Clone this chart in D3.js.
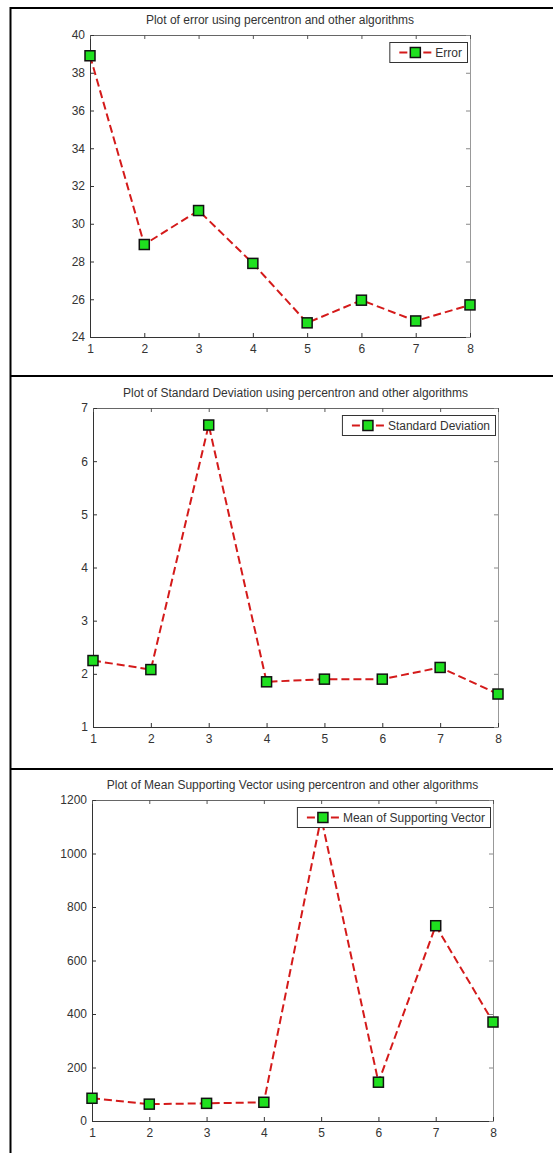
<!DOCTYPE html>
<html><head><meta charset="utf-8">
<script src="https://cdn.jsdelivr.net/npm/d3@7"></script>
<style>
html,body{margin:0;padding:0;background:#fff;}
svg{display:block;font-family:"Liberation Sans",Arial,sans-serif;}
</style></head>
<body>
<svg id="c" width="553" height="1153"></svg>
<script>
const xCats = [1,2,3,4,5,6,7,8];
const errorVals = [38.9, 28.9, 30.7, 27.9, 24.75, 25.95, 24.85, 25.7];
const sdVals = [2.25, 2.08, 6.68, 1.85, 1.9, 1.9, 2.12, 1.62];
const msvVals = [85, 63, 66, 70, 1135, 145, 730, 370];
const titles = [
  "Plot of error using percentron and other algorithms",
  "Plot of Standard Deviation using percentron and other algorithms",
  "Plot of Mean Supporting Vector using percentron and other algorithms"
];
const legends = ["Error", "Standard Deviation", "Mean of Supporting Vector"];
const yTicks1 = [24,26,28,30,32,34,36,38,40];
const yTicks2 = [1,2,3,4,5,6,7];
const yTicks3 = [0,200,400,600,800,1000,1200];

const svg = d3.select("#c");
const FS = 12;

// table frame
svg.append("line").attr("x1",10.5).attr("x2",10.5).attr("y1",7).attr("y2",1153).attr("stroke","#000").attr("stroke-width",2);
[8,376,769].forEach(y=>{
  svg.append("line").attr("x1",10).attr("x2",553).attr("y1",y).attr("y2",y).attr("stroke","#000").attr("stroke-width",2);
});

const panels = [
  {vals:errorVals, ticks:yTicks1, dom:[24,40], L:90, R:470, T:35, B:337, title:titles[0], leg:legends[0]},
  {vals:sdVals, ticks:yTicks2, dom:[1,7], L:93, R:498, T:408, B:727, title:titles[1], leg:legends[1]},
  {vals:msvVals, ticks:yTicks3, dom:[0,1200], L:92, R:493, T:800, B:1121, title:titles[2], leg:legends[2]}
];

const lineCol = "#d41a1a";
const markFill = "#1fe01f";

panels.forEach(p=>{
  const x = d3.scaleLinear().domain([1,8]).range([p.L,p.R]);
  const y = d3.scaleLinear().domain(p.dom).range([p.B,p.T]);
  const g = svg.append("g");

  // title
  g.append("text").attr("x",(p.L+p.R)/2).attr("y",p.T-11).attr("text-anchor","middle")
    .attr("font-size",FS).attr("fill","#333").text(p.title);

  // box
  g.append("line").attr("x1",p.L).attr("x2",p.R).attr("y1",p.T+0.5).attr("y2",p.T+0.5).attr("stroke","#666");
  g.append("line").attr("x1",p.R+0.5).attr("x2",p.R+0.5).attr("y1",p.T).attr("y2",p.B).attr("stroke","#999");

  // axes (inward ticks)
  const xa = d3.axisBottom(x).tickValues(xCats).tickFormat(d3.format("d")).tickSizeInner(-4).tickSizeOuter(0).tickPadding(7);
  const ya = d3.axisLeft(y).tickValues(p.ticks).tickFormat(d3.format("d")).tickSizeInner(-4).tickSizeOuter(0).tickPadding(5);
  const xg = g.append("g").attr("transform",`translate(0,${p.B})`).call(xa);
  const yg = g.append("g").attr("transform",`translate(${p.L},0)`).call(ya);
  [xg,yg].forEach(a=>{
    a.select(".domain").attr("stroke","#333");
    a.selectAll(".tick line").attr("stroke","#333");
    a.selectAll(".tick text").attr("font-size",FS).attr("fill","#333").attr("font-family","Liberation Sans, Arial, sans-serif");
  });
  // top/right ticks
  const xt = d3.axisTop(x).tickValues(xCats).tickFormat("").tickSizeInner(-4).tickSizeOuter(0);
  const yr = d3.axisRight(y).tickValues(p.ticks).tickFormat("").tickSizeInner(-4).tickSizeOuter(0);
  const tg = g.append("g").attr("transform",`translate(0,${p.T})`).call(xt);
  const rg = g.append("g").attr("transform",`translate(${p.R},0)`).call(yr);
  tg.select(".domain").remove(); rg.select(".domain").remove();
  tg.selectAll(".tick line").attr("stroke","#555");
  rg.selectAll(".tick line").attr("stroke","#888");

  // line
  const pts = p.vals.map((v,i)=>[xCats[i],v]);
  g.append("path").datum(pts)
    .attr("d", d3.line().x(d=>x(d[0])).y(d=>y(d[1])))
    .attr("fill","none").attr("stroke",lineCol).attr("stroke-width",2).attr("stroke-dasharray","8,4");
  g.selectAll("rect.m").data(pts).join("rect").attr("class","m")
    .attr("x",d=>x(d[0])-5).attr("y",d=>y(d[1])-5).attr("width",10).attr("height",10)
    .attr("fill",markFill).attr("stroke","#111").attr("stroke-width",1.5);

  // legend
  const lg = g.append("g");
  const txt = lg.append("text").attr("font-size",FS).attr("fill","#333").text(p.leg);
  const tw = txt.node().getComputedTextLength();
  const bw = 46 + tw + 5, bh = 20;
  const bx = p.R - 3 - bw, by = p.T + 7;
  lg.insert("rect","text").attr("x",bx+0.5).attr("y",by+0.5).attr("width",bw).attr("height",bh)
    .attr("fill","#fff").attr("stroke","#333");
  txt.attr("x",bx+46).attr("y",by+bh/2+4.5);
  lg.append("line").attr("x1",bx+10).attr("x2",bx+43).attr("y1",by+bh/2+0.5).attr("y2",by+bh/2+0.5)
    .attr("stroke",lineCol).attr("stroke-width",2).attr("stroke-dasharray","8,4");
  lg.append("rect").attr("x",bx+21).attr("y",by+bh/2-4.5).attr("width",10).attr("height",10)
    .attr("fill",markFill).attr("stroke","#111").attr("stroke-width",1.5);
});
</script>
</body></html>
